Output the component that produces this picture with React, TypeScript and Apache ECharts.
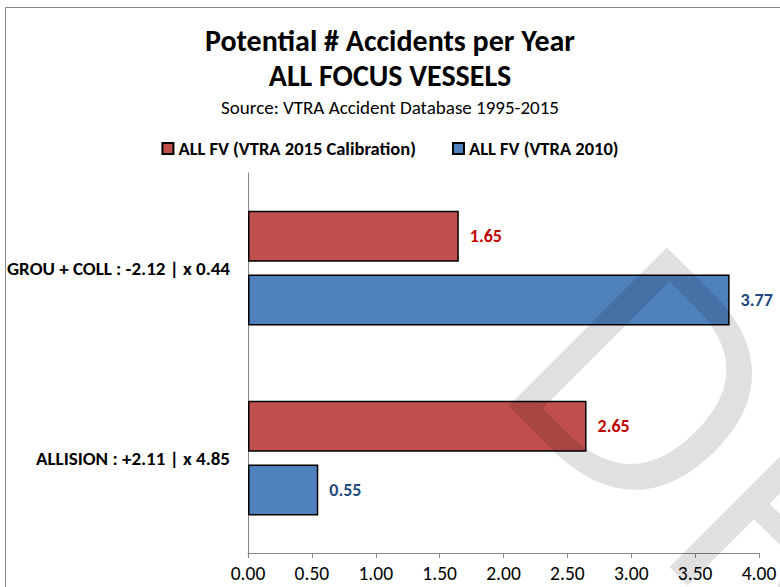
import React, { useEffect, useRef } from "react";
import * as echarts from "echarts";

const categories = ["GROU + COLL : -2.12 | x 0.44", "ALLISION : +2.11 | x 4.85"];
const seriesNames = ["ALL FV (VTRA 2015 Calibration)", "ALL FV (VTRA 2010)"];
const calib2015 = [1.65, 2.65];
const vtra2010 = [3.77, 0.55];
const xTicks = { min: 0, max: 4, interval: 0.5 };

const FONT = "Carlito, Calibri, Lato, sans-serif";

export default function App() {
  const ref = useRef<HTMLDivElement>(null);
  useEffect(() => {
    if (!ref.current) return;
    const chart = echarts.init(ref.current, null, { renderer: "svg" });
    chart.setOption({
      animation: false,
      backgroundColor: "#ffffff",
      title: [
        {
          text: "Potential # Accidents per Year\nALL FOCUS VESSELS",
          left: "center",
          top: 18,
          textStyle: {
            fontFamily: FONT,
            fontSize: 30,
            lineHeight: 35,
            fontWeight: "bold",
            color: "#000",
          },
        },
        {
          text: "Source: VTRA Accident Database 1995-2015",
          left: "center",
          top: 93,
          textStyle: { fontFamily: FONT, fontSize: 19, fontWeight: "normal", color: "#000" },
        },
      ],
      legend: {
        top: 134,
        left: "center",
        icon: "rect",
        itemWidth: 11,
        itemHeight: 11,
        itemGap: 36,
        textStyle: { fontFamily: FONT, fontSize: 18.5, fontWeight: "bold", color: "#000" },
        data: seriesNames,
      },
      grid: { left: 248, right: 21, top: 173, bottom: 34, containLabel: false },
      xAxis: {
        type: "value",
        min: xTicks.min,
        max: xTicks.max,
        interval: xTicks.interval,
        axisLine: { show: true, lineStyle: { color: "#868686", width: 1 } },
        axisTick: { show: true, length: 5, lineStyle: { color: "#868686" } },
        splitLine: { show: false },
        axisLabel: {
          margin: 10,
          fontFamily: FONT,
          fontSize: 19.5,
          color: "#000",
          formatter: (v: number) => v.toFixed(2),
        },
      },
      yAxis: {
        type: "category",
        inverse: true,
        data: categories,
        axisLine: { show: true, lineStyle: { color: "#868686", width: 1 } },
        axisTick: { show: false },
        axisLabel: {
          margin: 18,
          fontFamily: FONT,
          fontSize: 19,
          fontWeight: "bold",
          color: "#000",
        },
      },
      series: [
        {
          name: seriesNames[0],
          type: "bar",
          data: calib2015,
          barWidth: 51,
          barGap: "25%",
          itemStyle: { color: "#C0504D", borderColor: "#000", borderWidth: 1.5 },
          label: {
            show: true,
            position: "right",
            distance: 11,
            fontFamily: FONT,
            fontSize: 18,
            fontWeight: "bold",
            color: "#C00000",
            formatter: (p: any) => p.value.toFixed(2),
          },
        },
        {
          name: seriesNames[1],
          type: "bar",
          data: vtra2010,
          barWidth: 51,
          barGap: "25%",
          itemStyle: { color: "#4F81BD", borderColor: "#000", borderWidth: 1.5 },
          label: {
            show: true,
            position: "right",
            distance: 11,
            fontFamily: FONT,
            fontSize: 18,
            fontWeight: "bold",
            color: "#1F497D",
            formatter: (p: any) => p.value.toFixed(2),
          },
        },
      ],
      graphic: [
        {
          type: "rect",
          silent: true,
          z: 0,
          shape: { x: 5.5, y: 7.5, width: 800, height: 700 },
          style: { fill: "none", stroke: "#868686", lineWidth: 1 },
        },
        {
          type: "text",
          silent: true,
          z: 100,
          x: 573,
          y: 298,
          rotation: -Math.PI / 4,
          style: {
            text: "DRAFT",
            fontFamily: "Open Sans, sans-serif",
            fontSize: 314,
            fontWeight: "normal",
            fill: "rgba(0,0,0,0.12)",
            align: "left",
            verticalAlign: "middle",
          },
        },
      ],
    });
    return () => chart.dispose();
  }, []);
  return (
    <div
      ref={ref}
      style={{ position: "fixed", left: 0, top: 0, width: 780, height: 587 }}
    />
  );
}
